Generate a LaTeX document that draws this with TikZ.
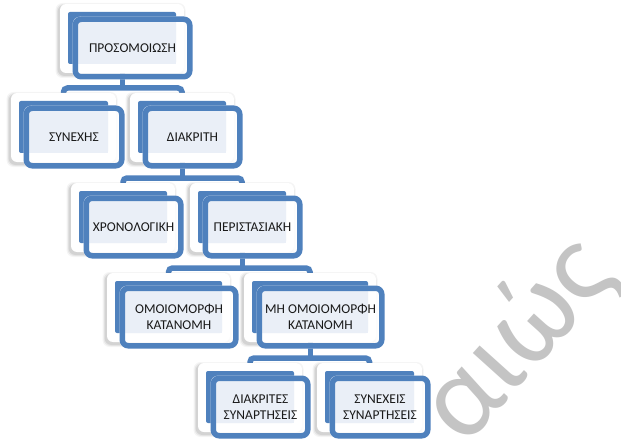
\documentclass[tikz,border=0pt]{standalone}
\usepackage{fontspec}
\setmainfont{Carlito}
\usetikzlibrary{calc}
\definecolor{sblue}{RGB}{79,129,189}
\definecolor{slight}{RGB}{234,239,247}
\definecolor{wmgray}{RGB}{196,196,196}
\pgfdeclarelayer{bg}
\pgfdeclarelayer{wmlayer}
\pgfsetlayers{wmlayer,bg,main}
\tikzset{
  backbox/.style={rectangle, rounded corners=6pt, fill=white, inner sep=0pt, outer sep=0pt},
  frontbox/.style={rectangle, draw=sblue, line width=5.5pt, rounded corners=6pt, inner sep=0pt,
    font=\fontsize{13.5}{15.5}\selectfont, text=black!90, align=center},
  conn/.style={draw=sblue, line width=5.5pt, rounded corners=4pt},
  stemline/.style={draw=sblue, line width=5pt},
  shadowlayer/.style={fill=black, rounded corners=7pt},
}
\newcommand\orgbox[5]{%
  \pgfmathsetmacro\bw{#3-#2}%
  \pgfmathsetmacro\bcx{(#2+#3)/2}%
  \pgfmathsetmacro\bcy{#4+34.5}%
  \pgfmathsetmacro\fw{#3-#2-9.5}%
  \pgfmathsetmacro\fcx{(#2+#3+21)/2}%
  \pgfmathsetmacro\fcy{#4+44}%
  \foreach \s/\o in {3/0.04,2/0.06,1/0.08} {
    \fill[shadowlayer, opacity=\o] (#2-1.5-\s,#4+2-\s) rectangle (#3-1.5+\s,#4+71+\s);
  }
  \node[backbox, minimum width=\bw pt, minimum height=69pt] (w#1) at (\bcx,\bcy) {};
  \fill[sblue, rounded corners=2pt] (#2+8,#4+8) rectangle (#3-8,#4+60);
  \fill[white, opacity=0.85, rounded corners=8pt] (#2+12.5,#4+12.5) rectangle (#3+8.5,#4+75.5);
  \fill[slight] (#2+18,#4+18) rectangle (#3-8,#4+60);
  \node[frontbox, minimum width=\fw pt, minimum height=57.5pt] (f#1) at (\fcx,\fcy) {#5};
}
\begin{document}
\begin{tikzpicture}[x=1pt,y=-1pt]
\useasboundingbox (0,0) rectangle (621,441);
\begin{pgfonlayer}{wmlayer}
\fill[white] (0,0) rectangle (621,441);
\begin{scope}
\clip (0,0) rectangle (621,441);
\node[text=wmgray, font=\fontsize{118}{118}\selectfont, rotate=48, inner sep=0pt] (wm) at (518,340) {αιώς};
\end{scope}
\end{pgfonlayer}
\orgbox{a}{60}{184}{4}{ΠΡΟΣΟΜΟΙΩΣΗ}
\orgbox{b}{11}{116}{93}{ΣΥΝΕΧΗΣ}
\orgbox{c}{130}{234}{93}{ΔΙΑΚΡΙΤΗ}
\orgbox{d}{71}{175}{183}{ΧΡΟΝΟΛΟΓΙΚΗ}
\orgbox{e}{190}{294}{183}{ΠΕΡΙΣΤΑΣΙΑΚΗ}
\orgbox{f}{107}{230}{273}{ΟΜΟΙΟΜΟΡΦΗ\\ΚΑΤΑΝΟΜΗ}
\orgbox{g}{244}{376}{273}{ΜΗ ΟΜΟΙΟΜΟΡΦΗ\\ΚΑΤΑΝΟΜΗ}
\orgbox{h}{198}{302}{363}{ΔΙΑΚΡΙΤΕΣ\\ΣΥΝΑΡΤΗΣΕΙΣ}
\orgbox{i}{317}{422}{363}{ΣΥΝΕΧΕΙΣ\\ΣΥΝΑΡΤΗΣΕΙΣ}
\begin{pgfonlayer}{bg}
\coordinate (y1) at (0,88);
\coordinate (y2) at (0,178);
\coordinate (y3) at (0,268);
\coordinate (y4) at (0,358);
\draw[conn] ($(wb.north)+(0,6)$) -- (wb.north |- y1) -- (wc.north |- y1) -- ($(wc.north)+(0,6)$);
\draw[stemline] (wa.south) -- (wa.south |- y1);
\draw[conn] ($(wd.north)+(0,6)$) -- (wd.north |- y2) -- (we.north |- y2) -- ($(we.north)+(0,6)$);
\draw[stemline] (wc.south) -- (wc.south |- y2);
\draw[conn] ($(wf.north)+(0,6)$) -- (wf.north |- y3) -- (wg.north |- y3) -- ($(wg.north)+(0,6)$);
\draw[stemline] (we.south) -- (we.south |- y3);
\draw[conn] ($(wh.north)+(0,6)$) -- (wh.north |- y4) -- (wi.north |- y4) -- ($(wi.north)+(0,6)$);
\draw[stemline] (wg.south) -- (wg.south |- y4);
\end{pgfonlayer}
\end{tikzpicture}
\end{document}
